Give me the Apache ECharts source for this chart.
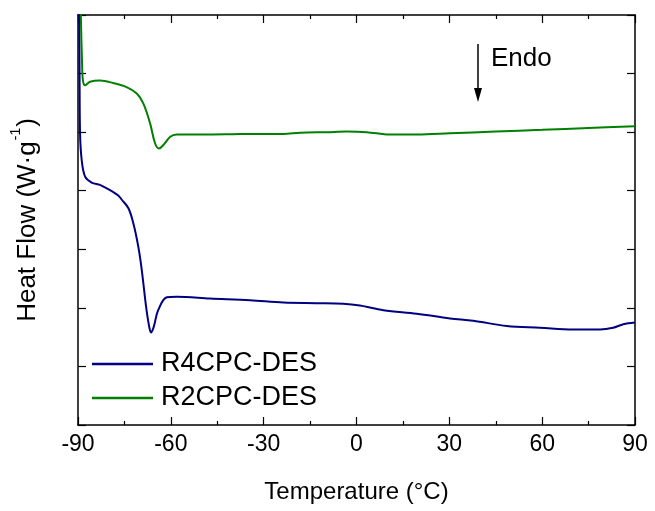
<!DOCTYPE html>
<html>
<head>
<meta charset="utf-8">
<script src="https://cdn.jsdelivr.net/npm/echarts@6/dist/echarts.min.js"></script>
<style>html,body{margin:0;padding:0;background:#fff}#c{width:655px;height:511px}</style>
</head>
<body>
<div id="c"></div>
<script>
// Temperature (°C) and heat flow (arbitrary offset units)
const r2Temps = [-89.3, -89.0, -88.7, -88.4, -87.7, -86.1, -82.9, -78.7, -74.3, -71.0, -68.9, -66.7, -65.1, -63.8, -62.4, -60.2, -58.1, -50, -40, -34.4, -23.7, -18.2, -9.6, -3.2, 3.3, 10.8, 19.5, 30.2, 45, 60, 75, 90];
const r2Flow  = [7.5, 6.8, 6.2, 5.88, 5.80, 5.86, 5.88, 5.84, 5.77, 5.66, 5.49, 5.15, 4.81, 4.72, 4.78, 4.92, 4.96, 4.96, 4.965, 4.97, 4.97, 4.99, 5.00, 5.01, 5.00, 4.96, 4.96, 4.98, 5.01, 5.04, 5.07, 5.10];
const r4Temps = [-89.7, -89.5, -89.35, -88.8, -87.7, -85.6, -82.9, -81.8, -78.7, -77.0, -75.9, -73.7, -72.1, -70.5, -69.4, -68.0, -67.0, -66.4, -65.5, -64.1, -61.3, -58.1, -47.3, -34.4, -23.6, -12.9, -4.3, 1.1, 8.7, 19.5, 30.2, 37.7, 48.6, 59.3, 70, 78.7, 82.9, 86.2, 90];
const r4Flow  = [7.5, 6.0, 5.0, 4.52, 4.24, 4.14, 4.10, 4.07, 3.98, 3.92, 3.85, 3.70, 3.44, 3.04, 2.65, 2.02, 1.68, 1.58, 1.68, 1.96, 2.18, 2.19, 2.16, 2.13, 2.09, 2.08, 2.07, 2.04, 1.96, 1.90, 1.82, 1.78, 1.69, 1.66, 1.63, 1.63, 1.66, 1.72, 1.75];
const seriesNames = ['R4CPC-DES', 'R2CPC-DES'];
const xTicks = [-90, -60, -30, 0, 30, 60, 90];

const pair = (t, v) => t.map((x, i) => [x, v[i]]);
const font = 'Liberation Sans, Arial, sans-serif';
const chart = echarts.init(document.getElementById('c'), null, {renderer: 'canvas'});

const axLine = {show: true, onZero: false, lineStyle: {color: '#000', width: 1.5}};
const xCommon = {
  type: 'value', min: xTicks[0], max: xTicks[xTicks.length - 1], interval: 30,
  axisLine: axLine,
  axisTick: {inside: true, length: 8, lineStyle: {color: '#000', width: 1.2}},
  minorTick: {show: true, splitNumber: 2, length: 4, lineStyle: {color: '#000', width: 1.2}},
  splitLine: {show: false}
};
const yCommon = {
  type: 'value', min: 0, max: 7, interval: 1,
  axisLine: axLine,
  axisTick: {inside: true, length: 8, lineStyle: {color: '#000', width: 1.2}},
  axisLabel: {show: false},
  splitLine: {show: false}
};

chart.setOption({
  animation: false,
  backgroundColor: '#fff',
  grid: {left: 78, right: 20, top: 15, bottom: 86, containLabel: false},
  xAxis: [
    Object.assign({}, xCommon, {
      position: 'bottom',
      name: 'Temperature (°C)', nameLocation: 'middle', nameGap: 55,
      nameTextStyle: {fontFamily: font, fontSize: 24, color: '#000'},
      axisLabel: {show: true, margin: 8, fontFamily: font, fontSize: 23, color: '#000'}
    }),
    Object.assign({}, xCommon, {position: 'top', axisLabel: {show: false}})
  ],
  yAxis: [
    Object.assign({}, yCommon, {
      position: 'left',
      name: '{a|Heat Flow (W·g}{s|-1}{a|)}', nameLocation: 'middle', nameGap: 37, nameRotate: 90,
      nameTextStyle: {
        fontFamily: font, color: '#000',
        rich: {
          a: {fontFamily: font, fontSize: 26, color: '#000', lineHeight: 32, verticalAlign: 'bottom'},
          s: {fontFamily: font, fontSize: 14, color: '#000', lineHeight: 32, verticalAlign: 'top', padding: [0, 1, 0, 1]}
        }
      }
    }),
    Object.assign({}, yCommon, {position: 'right'})
  ],
  legend: {
    orient: 'vertical', left: 87, top: 344,
    itemWidth: 61, itemHeight: 2.5, itemGap: 4, icon: 'rect',
    textStyle: {fontFamily: font, fontSize: 27, color: '#000', lineHeight: 30, padding: [0, 0, 0, 3]},
    data: seriesNames
  },
  series: [
    {name: seriesNames[0], type: 'line', data: pair(r4Temps, r4Flow), showSymbol: false, smooth: 0.35,
     lineStyle: {color: '#000080', width: 2}, itemStyle: {color: '#000080'}, clip: true},
    {name: seriesNames[1], type: 'line', data: pair(r2Temps, r2Flow), showSymbol: false, smooth: 0.35,
     lineStyle: {color: '#008000', width: 2}, itemStyle: {color: '#008000'}, clip: true}
  ],
  graphic: [
    {type: 'line', shape: {x1: 478, y1: 44, x2: 478, y2: 92}, style: {stroke: '#000', lineWidth: 1.5}},
    {type: 'polygon', shape: {points: [[474, 88], [482, 88], [478, 102]]}, style: {fill: '#000'}},
    {type: 'text', left: 491, top: 46, style: {text: 'Endo', font: '26px ' + font, fill: '#000'}}
  ]
});
</script>
</body>
</html>
